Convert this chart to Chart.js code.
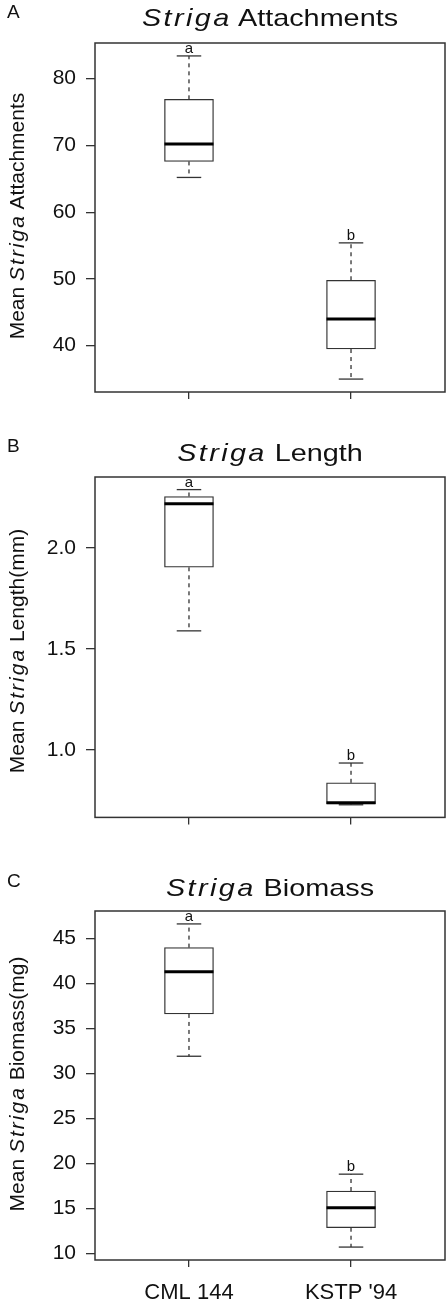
<!DOCTYPE html>
<html>
<head>
<meta charset="utf-8">
<script src="https://cdn.jsdelivr.net/npm/chart.js@4"></script>
<style>
body { margin: 0; background: #fff; }
#page { position: relative; width: 448px; height: 1302px; font-family: "Liberation Sans", Arial, sans-serif; color: #111; overflow: hidden; }
canvas { position: absolute; left: 0; }
.panel { position: absolute; left: 7px; font-size: 19px; line-height: 1; }
.title { position: absolute; left: 270px; font-size: 24px; line-height: 1; white-space: nowrap; transform: translateX(-50%) scaleX(1.2); }
.ylab { position: absolute; left: 16px; font-size: 21px; line-height: 1; white-space: nowrap; transform: translate(-50%, -50%) rotate(-90deg); }
.sp { font-style: italic; letter-spacing: 2px; }
</style>
</head>
<body>
<div id="page">
  <canvas id="chartA" width="448" height="420" style="top:0px"></canvas>
  <canvas id="chartB" width="448" height="420" style="top:420px"></canvas>
  <canvas id="chartC" width="448" height="462" style="top:840px"></canvas>

  <div class="panel" style="top:2px">A</div>
  <div class="title" style="top:6px"><span class="sp">Striga</span> Attachments</div>
  <div class="ylab" style="top:216px">Mean <span class="sp">Striga</span> Attachments</div>

  <div class="panel" style="top:436px">B</div>
  <div class="title" style="top:441px"><span class="sp">Striga</span> Length</div>
  <div class="ylab" style="top:651px">Mean <span class="sp">Striga</span> Length(mm)</div>

  <div class="panel" style="top:871px">C</div>
  <div class="title" style="top:876px"><span class="sp">Striga</span> Biomass</div>
  <div class="ylab" style="top:1084px">Mean <span class="sp">Striga</span> Biomass(mg)</div>
</div>
<script>
const categories = ["CML 144", "KSTP '94"];
const letters = ["a", "b"];

// A - attachments
const attachMin = [65.2, 35.0];
const attachQ1 = [67.6, 39.5];
const attachMedian = [70.2, 44.0];
const attachQ3 = [76.9, 49.8];
const attachMax = [83.4, 55.4];
const attachTicks = [40, 50, 60, 70, 80];

// B - length (mm)
const lengthMin = [1.59, 0.728];
const lengthQ1 = [1.905, 0.732];
const lengthMedian = [2.22, 0.738];
const lengthQ3 = [2.256, 0.837];
const lengthMax = [2.29, 0.935];
const lengthTicks = [1.0, 1.5, 2.0];

// C - biomass (mg)
const biomassMin = [31.9, 10.7];
const biomassQ1 = [36.6, 12.85];
const biomassMedian = [41.3, 15.07];
const biomassQ3 = [43.97, 16.93];
const biomassMax = [46.6, 18.8];
const biomassTicks = [10, 15, 20, 25, 30, 35, 40, 45];

const FONT = '"Liberation Sans", Arial, sans-serif';

// R style axis range: data range + 4%
function expand(lo, hi) {
  const d = (hi - lo) * 0.04;
  return [lo - d, hi + d];
}

function line(ctx, x1, y1, x2, y2) {
  ctx.beginPath();
  ctx.moveTo(x1, y1);
  ctx.lineTo(x2, y2);
  ctx.stroke();
}

function boxExtras(st) {
  return {
    id: 'boxExtras',
    afterDatasetsDraw(chart) {
      const ctx = chart.ctx;
      const x = chart.scales.x, y = chart.scales.y;
      const bars = chart.getDatasetMeta(0).data;
      ctx.save();
      st.median.forEach((m, i) => {
        const cx = x.getPixelForValue(i + 1);
        const half = bars[i].width / 2;
        const yMax = y.getPixelForValue(st.max[i]);
        const yMin = y.getPixelForValue(st.min[i]);
        ctx.strokeStyle = '#333';
        ctx.lineWidth = 1.3;
        ctx.setLineDash([4, 4]);
        line(ctx, cx, y.getPixelForValue(st.q3[i]), cx, yMax);
        line(ctx, cx, y.getPixelForValue(st.q1[i]), cx, yMin);
        ctx.setLineDash([]);
        line(ctx, cx - half / 2, yMax, cx + half / 2, yMax);
        line(ctx, cx - half / 2, yMin, cx + half / 2, yMin);
        // median
        ctx.strokeStyle = '#000';
        ctx.lineWidth = 3;
        const ym = y.getPixelForValue(m);
        line(ctx, cx - half, ym, cx + half, ym);
        // letters
        ctx.fillStyle = '#111';
        ctx.font = '15px ' + FONT;
        ctx.textAlign = 'center';
        ctx.textBaseline = 'alphabetic';
        ctx.fillText(letters[i], cx, yMax - 3);
      });
      ctx.restore();
    }
  };
}

const frame = {
  id: 'frame',
  afterDraw(chart) {
    const a = chart.chartArea, ctx = chart.ctx;
    ctx.save();
    ctx.strokeStyle = '#333';
    ctx.lineWidth = 1.5;
    ctx.strokeRect(a.left, a.top, a.right - a.left, a.bottom - a.top);
    ctx.restore();
  }
};

function makePanel(id, st, ticks, digits, padTop, xHeight, showLabels) {
  const yr = expand(Math.min(...st.min), Math.max(...st.max));
  const xr = expand(0.5, categories.length + 0.5);
  return new Chart(document.getElementById(id), {
    type: 'bar',
    data: {
      datasets: [{
        data: categories.map((c, i) => ({ x: i + 1, y: [st.q1[i], st.q3[i]] })),
        backgroundColor: '#fff',
        borderColor: '#333',
        borderWidth: 1.3,
        borderSkipped: false,
        barThickness: 49
      }]
    },
    options: {
      responsive: false,
      animation: false,
      devicePixelRatio: 1,
      layout: { padding: { top: padTop, right: 3, left: 0, bottom: 0 } },
      plugins: { legend: { display: false }, tooltip: { enabled: false } },
      scales: {
        x: {
          type: 'linear',
          min: xr[0],
          max: xr[1],
          offset: false,
          afterBuildTicks: s => { s.ticks = categories.map((c, i) => ({ value: i + 1 })); },
          afterFit: s => { s.height = xHeight; },
          ticks: {
            callback: (v, i) => showLabels ? categories[i] : '',
            font: { family: FONT, size: 22 },
            color: '#111',
            padding: 13,
            maxRotation: 0,
            autoSkip: false
          },
          grid: { offset: false, drawOnChartArea: false, drawTicks: true, tickLength: 7, color: '#333', lineWidth: 1.3 },
          border: { display: false }
        },
        y: {
          min: yr[0],
          max: yr[1],
          afterBuildTicks: s => { s.ticks = ticks.map(v => ({ value: v })); },
          afterFit: s => { s.width = 95; },
          ticks: {
            callback: v => v.toFixed(digits),
            font: { family: FONT, size: 21 },
            color: '#111',
            padding: 10
          },
          grid: { drawOnChartArea: false, drawTicks: true, tickLength: 9, color: '#333', lineWidth: 1.3 },
          border: { display: false }
        }
      }
    },
    plugins: [boxExtras(st), frame]
  });
}

makePanel('chartA', { min: attachMin, q1: attachQ1, median: attachMedian, q3: attachQ3, max: attachMax }, attachTicks, 0, 43, 28, false);
makePanel('chartB', { min: lengthMin, q1: lengthQ1, median: lengthMedian, q3: lengthQ3, max: lengthMax }, lengthTicks, 1, 57, 13, false);
makePanel('chartC', { min: biomassMin, q1: biomassQ1, median: biomassMedian, q3: biomassQ3, max: biomassMax }, biomassTicks, 0, 71, 42, true);
</script>
</body>
</html>
